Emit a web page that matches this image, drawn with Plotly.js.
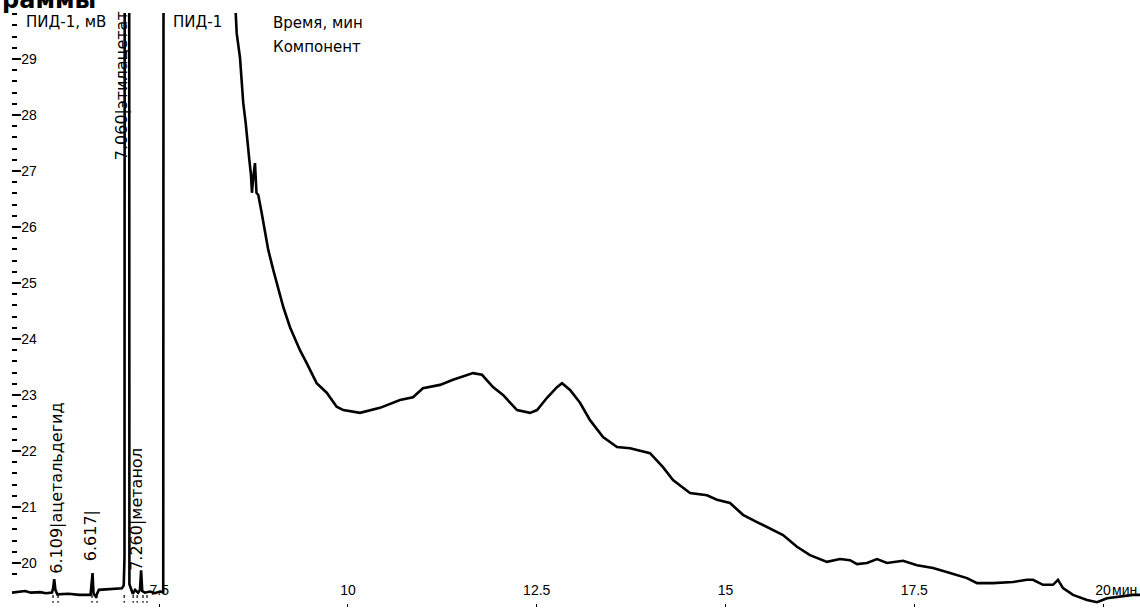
<!DOCTYPE html>
<html>
<head>
<meta charset="utf-8">
<script src="https://cdn.plot.ly/plotly-3.0.1.min.js"></script>
<style>
  html, body { margin: 0; padding: 0; background: #fff; }
  #chart { width: 1140px; height: 608px; }
</style>
</head>
<body>
<div id="chart"></div>
<script>
// ---- data ----
const timeMin = [
  5.550, 5.640, 5.722, 5.800, 5.923, 6.000, 6.080, 6.095, 6.109, 6.125, 6.150, 6.300, 6.440, 6.590,
  6.605, 6.617, 6.630, 6.660, 6.700, 6.850, 7.006, 7.030, 7.036, 7.040, 7.045, 7.100, 7.105, 7.126,
  7.150, 7.180, 7.220, 7.245, 7.260, 7.275, 7.310, 7.380, 7.440, 7.510, 7.553, 7.560, 8.500, 8.513,
  8.526, 8.570, 8.592, 8.613, 8.645, 8.666, 8.693, 8.715, 8.728, 8.742, 8.768, 8.788, 8.812, 8.857,
  8.901, 8.944, 9.011, 9.077, 9.143, 9.232, 9.320, 9.364, 9.453, 9.585, 9.718, 9.850, 9.938, 10.159,
  10.424, 10.689, 10.861, 10.993, 11.219, 11.391, 11.656, 11.775, 11.921, 12.053, 12.239, 12.411,
  12.504, 12.636, 12.768, 12.835, 12.941, 13.073, 13.206, 13.378, 13.563, 13.736, 14.000, 14.172,
  14.305, 14.530, 14.755, 14.887, 15.060, 15.232, 15.417, 15.629, 15.762, 15.947, 16.119, 16.344,
  16.517, 16.649, 16.742, 16.874, 17.007, 17.139, 17.351, 17.537, 17.749, 17.974, 18.199, 18.332,
  18.543, 18.808, 18.993, 19.073, 19.205, 19.338, 19.404, 19.470, 19.603, 19.788, 19.921, 20.053,
  20.186, 20.397, 20.490
];
const signalMV = [
  19.47, 19.49, 19.50, 19.47, 19.48, 19.46, 19.47, 19.55, 19.71, 19.52, 19.44, 19.45, 19.43, 19.43,
  19.60, 19.82, 19.45, 19.40, 19.52, 19.53, 19.55, 19.60, 20.05, 20.10, 40.00, 40.00, 19.62, 19.55,
  19.45, 19.52, 19.47, 19.52, 19.87, 19.50, 19.47, 19.49, 19.46, 19.49, 19.48, 40.00, 40.00, 29.82,
  29.46, 29.02, 28.59, 28.21, 27.86, 27.50, 27.20, 26.93, 26.61, 26.84, 27.14, 26.61, 26.57, 26.25,
  25.89, 25.59, 25.23, 24.88, 24.57, 24.21, 23.93, 23.80, 23.57, 23.21, 23.04, 22.79, 22.73, 22.68,
  22.77, 22.91, 22.96, 23.12, 23.18, 23.27, 23.39, 23.36, 23.14, 23.00, 22.73, 22.68,
  22.73, 22.95, 23.14, 23.21, 23.09, 22.86, 22.55, 22.25, 22.07, 22.05, 21.96, 21.71,
  21.48, 21.25, 21.21, 21.13, 21.07, 20.86, 20.73, 20.59, 20.50, 20.29, 20.14, 20.02,
  20.07, 20.05, 19.98, 20.00, 20.07, 20.00, 20.04, 19.96, 19.91, 19.82, 19.73, 19.64,
  19.64, 19.66, 19.70, 19.70, 19.61, 19.61, 19.70, 19.55, 19.43, 19.34, 19.30, 19.37,
  19.39, 19.43, 19.43
];
const peakTimes = [6.109, 6.617, 7.060, 7.260];
const peakNames = ['ацетальдегид', '', 'этилацетат', 'метанол'];
const boundaryTimes = [6.093, 6.160, 6.610, 6.676, 7.036, 7.155, 7.208, 7.285, 7.338];
const xTickVals = [7.5, 10, 12.5, 15, 17.5, 20];
const xTickText = ['7.5', '10', '12.5', '15', '17.5', '20'];
const yTickVals = [20, 21, 22, 23, 24, 25, 26, 27, 28, 29];

// ---- peak boundary dotted marks ----
const markTop = 19.43, markBottom = 19.29;
const bx = [], by = [];
boundaryTimes.forEach(t => { bx.push(t, t, null); by.push(markTop, markBottom, null); });

const traces = [
  { x: timeMin, y: signalMV, type: 'scatter', mode: 'lines',
    line: { color: '#000', width: 2.6 }, hoverinfo: 'skip' },
  { x: bx, y: by, type: 'scatter', mode: 'lines',
    line: { color: '#000', width: 1.2, dash: 'dot' }, hoverinfo: 'skip', connectgaps: false }
];

// label placement (pixel offsets & label bases)
const labelShift = [2, -2, -5, -4];
const labelBase = [19.91, 20.14, 27.29, 19.96];

const rotFont = { family: 'DejaVu Sans', size: 16, color: '#000' };
const headFont = { family: 'DejaVu Sans', size: 15, color: '#000' };

const annotations = peakTimes.map((t, i) => ({
  x: t, y: labelBase[i], xref: 'x', yref: 'y',
  text: t.toFixed(3) + '|' + peakNames[i],
  textangle: -90, showarrow: false, xanchor: 'center', yanchor: 'bottom',
  xshift: labelShift[i], yshift: -8, font: rotFont
}));

function pxX(p) { return (p - 12) / 1128; }
function pxY(p) { return (607 - p) / 594; }

annotations.push(
  { xref: 'paper', yref: 'paper', x: pxX(0), y: pxY(9), yanchor: 'bottom', xanchor: 'left',
    yshift: -7, text: '<b>раммы</b>', showarrow: false,
    font: { family: 'DejaVu Sans', size: 24, color: '#000' } },
  { xref: 'paper', yref: 'paper', x: pxX(24), y: pxY(22), xanchor: 'left', yanchor: 'middle',
    text: 'ПИД-1, мВ', showarrow: false, font: headFont },
  { xref: 'paper', yref: 'paper', x: pxX(171), y: pxY(22), xanchor: 'left', yanchor: 'middle',
    text: 'ПИД-1', showarrow: false, font: headFont },
  { xref: 'paper', yref: 'paper', x: pxX(271), y: pxY(23), xanchor: 'left', yanchor: 'middle',
    text: 'Время, мин', showarrow: false, font: headFont },
  { xref: 'paper', yref: 'paper', x: pxX(271), y: pxY(47), xanchor: 'left', yanchor: 'middle',
    text: 'Компонент', showarrow: false, font: headFont },
  { xref: 'x', yref: 'paper', x: 20, y: pxY(590), xanchor: 'left', yanchor: 'middle',
    xshift: 7, text: 'мин', showarrow: false,
    font: { family: 'Liberation Sans', size: 14, color: '#000' } }
);

const layout = {
  width: 1140, height: 608,
  margin: { l: 12, r: 0, t: 13, b: 1, pad: 0 },
  paper_bgcolor: '#fff', plot_bgcolor: '#fff',
  showlegend: false,
  font: { family: 'DejaVu Sans', size: 14, color: '#000' },
  xaxis: {
    range: [5.55, 20.49], showgrid: false, zeroline: false, showline: false,
    tickmode: 'array', tickvals: xTickVals, ticktext: xTickText,
    ticks: 'inside', ticklen: 3, tickwidth: 1, tickcolor: '#000',
    ticklabelposition: 'inside', ticklabelstandoff: 6,
    tickfont: { family: 'Liberation Sans', size: 14, color: '#000' }
  },
  yaxis: {
    range: [19.214, 29.82], showgrid: false, zeroline: false, showline: false,
    tickmode: 'array', tickvals: yTickVals,
    ticks: 'inside', ticklen: 9, tickwidth: 2, tickcolor: '#000',
    ticklabelposition: 'inside',
    tickfont: { family: 'Liberation Sans Narrow, Liberation Sans', size: 14, color: '#000' },
    minor: { dtick: 0.2, tick0: 0, ticks: 'inside', ticklen: 5, tickwidth: 2, tickcolor: '#000', showgrid: false }
  },
  annotations: annotations
};

Plotly.newPlot('chart', traces, layout, { displayModeBar: false, staticPlot: true });
</script>
</body>
</html>
